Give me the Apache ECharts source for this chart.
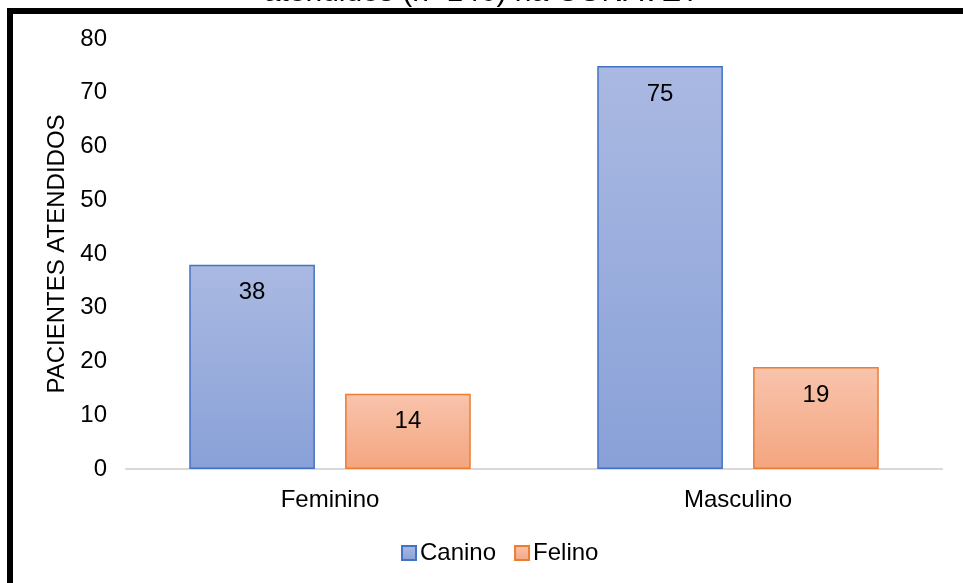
<!DOCTYPE html>
<html>
<head>
<meta charset="utf-8">
<script src="https://cdn.jsdelivr.net/npm/echarts@6/dist/echarts.min.js"></script>
<style>
  html, body { margin: 0; padding: 0; background: #ffffff; }
  #chart { width: 963px; height: 583px; }
</style>
</head>
<body>
<div id="chart"></div>
<script>
// Patients seen, by sex and species
const categories = ['Feminino', 'Masculino'];
const caninoValues = [38, 75];
const felinoValues = [14, 19];
const yTicks = { min: 0, max: 80, interval: 10 };
const titleText = 'atendidos (n=146) na CONAVET';
const yAxisName = 'PACIENTES ATENDIDOS';

const FONT = '"Liberation Sans", Arial, sans-serif';
const FS = 24;

function vGrad(top, bottom) {
  return new echarts.graphic.LinearGradient(0, 0, 0, 1, [
    { offset: 0, color: top },
    { offset: 1, color: bottom }
  ]);
}

const chart = echarts.init(document.getElementById('chart'), null, { renderer: 'canvas' });

const labelStyle = {
  show: true,
  position: 'insideTop',
  distance: 16,
  color: '#000000',
  fontFamily: FONT,
  fontSize: FS
};

chart.setOption({
  backgroundColor: '#ffffff',
  animation: false,
  grid: { left: 126, right: 21, top: 39, bottom: 114, containLabel: false },
  legend: {
    left: 396,
    top: 536,
    itemWidth: 14,
    itemHeight: 14,
    itemGap: 18,
    icon: 'rect',
    textStyle: { fontFamily: FONT, fontSize: FS, color: '#000000', padding: [0, 0, 0, -1] },
    data: ['Canino', 'Felino']
  },
  xAxis: {
    type: 'category',
    data: categories,
    axisLine: { show: true, lineStyle: { color: '#d9d9d9', width: 2 } },
    axisTick: { show: false },
    axisLabel: { fontFamily: FONT, fontSize: FS, color: '#000000', margin: 19 }
  },
  yAxis: {
    type: 'value',
    min: yTicks.min,
    max: yTicks.max,
    interval: yTicks.interval,
    name: yAxisName,
    nameLocation: 'middle',
    nameGap: 53,
    nameTextStyle: { fontFamily: FONT, fontSize: FS, color: '#000000' },
    axisLine: { show: false },
    axisTick: { show: false },
    splitLine: { show: false },
    axisLabel: { fontFamily: FONT, fontSize: FS, color: '#000000', margin: 19 }
  },
  series: [
    {
      name: 'Canino',
      type: 'bar',
      data: caninoValues,
      barGap: '24%',
      barCategoryGap: '31%',
      itemStyle: {
        color: vGrad('#aab9e2', '#89a1d8'),
        borderColor: '#4472c4',
        borderWidth: 1.5
      },
      label: labelStyle
    },
    {
      name: 'Felino',
      type: 'bar',
      data: felinoValues,
      itemStyle: {
        color: vGrad('#f8c4ad', '#f4a57f'),
        borderColor: '#ed7d31',
        borderWidth: 1.5
      },
      label: labelStyle
    }
  ],
  graphic: [
    {
      type: 'text',
      left: 'center',
      top: -22,
      z: 1,
      style: {
        text: titleText,
        fontFamily: FONT,
        fontSize: 30,
        fill: '#000000'
      }
    },
    {
      type: 'rect',
      z: 10,
      shape: { x: 7, y: 8, width: 956, height: 6 },
      style: { fill: '#000000' }
    },
    {
      type: 'rect',
      z: 10,
      shape: { x: 7, y: 8, width: 6, height: 575 },
      style: { fill: '#000000' }
    }
  ]
});
</script>
</body>
</html>
